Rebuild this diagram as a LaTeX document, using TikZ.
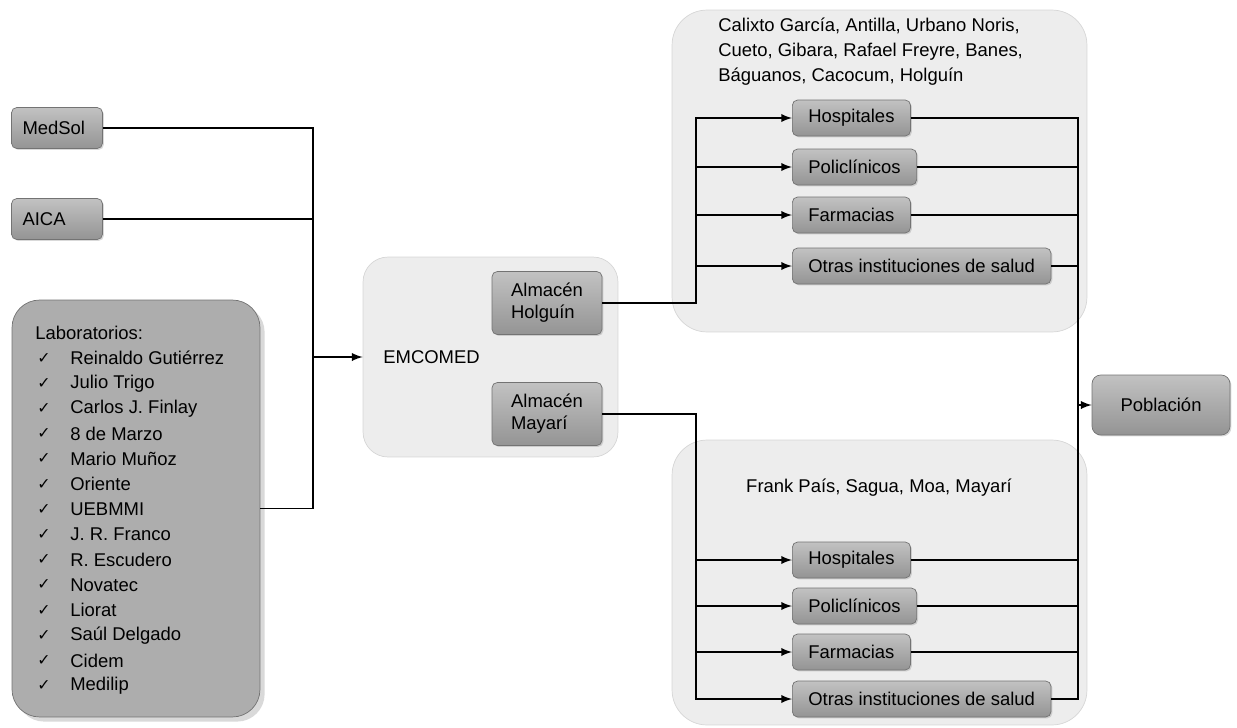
\documentclass[tikz,border=0pt]{standalone}
\usepackage{fontspec}
\setmainfont{Liberation Sans}
\newfontfamily\symfont{DejaVu Sans}
\usetikzlibrary{shadows}
\definecolor{boxtop}{gray}{0.76}
\definecolor{boxbot}{gray}{0.58}
\definecolor{boxline}{gray}{0.45}
\definecolor{labfill}{gray}{0.68}
\definecolor{regfill}{gray}{0.93}
\definecolor{regline}{gray}{0.84}
\newcommand{\chk}{{\symfont\small ✓}}

\begin{document}
\begin{tikzpicture}[x=0.02cm, y=-0.02cm, font=\fontsize{10.5}{14.2}\selectfont,
  box/.style={draw=boxline, top color=boxtop, bottom color=boxbot, rounded corners=3pt,
    minimum height=0.72cm, inner xsep=0.32cm,
    drop shadow={opacity=0.3, shadow xshift=0.8pt, shadow yshift=-0.8pt}},
  src/.style={box, minimum height=0.82cm, inner xsep=0.22cm, text width=1.38cm, align=left},
  unit/.style={box, anchor=west},
  store/.style={box, minimum width=2.2cm, minimum height=1.26cm, align=left,
    font=\fontsize{10.5}{12.5}\selectfont},
  region/.style={draw=regline, fill=regfill, rounded corners=0.7cm},
  item/.style={anchor=west, inner sep=0pt},
  conn/.style={line width=1.1pt},
  arr/.style={conn, -latex}]
        \useasboundingbox (0,0) rectangle (1237,727);

        % Suppliers
        \node[src] (medsol) at (57,128) {MedSol};
        \node[src] (aica) at (57,219) {AICA};
        \node[draw=boxline, fill=labfill, rounded corners=0.55cm, minimum width=4.96cm,
          minimum height=8.34cm, drop shadow={opacity=0.3}] (labs) at (136,508.5) {};
        \node[item] (labtitle) at (35,333) {Laboratorios:};
        \foreach \lab [count=\i] in {Reinaldo Gutiérrez, Julio Trigo, Carlos J. Finlay,
          8 de Marzo, Mario Muñoz, Oriente, UEBMMI, J. R. Franco, R. Escudero,
          Novatec, Liorat, Saúl Delgado, Cidem, Medilip} {
          \node[item] (chk\i) at (37, 333+25.2*\i) {\chk};
          \node[item] (lab\i) at (70, 333+25.2*\i) {\lab};
        }

        % EMCOMED
        \node[region, rounded corners=0.5cm, minimum width=5.1cm, minimum height=4cm] (emcomed) at (490.5,357) {};
        \node[item] (emcomedlbl) at (383,357) {EMCOMED};
        \node[store] (holg) at (547,303) {Almacén\\Holguín};
        \node[store] (mayari) at (547,414) {Almacén\\Mayarí};

        % Municipalities
        \node[region, minimum width=8.3cm, minimum height=6.44cm] (regA) at (879.5,171) {};
        \node[region, minimum width=8.3cm, minimum height=5.7cm] (regB) at (879.5,582.5) {};
        \node[item, align=left] (regAlbl) at (718,52) {Calixto García, Antilla, Urbano Noris,\\Cueto, Gibara, Rafael Freyre, Banes,\\Báguanos, Cacocum, Holguín};
        \node[inner sep=0pt] (regBlbl) at (879,488) {Frank País, Sagua, Moa, Mayarí};

        % Health units
        \node[unit] (hospA) at (792,118) {Hospitales};
        \node[unit] (poliA) at (792,167) {Policlínicos};
        \node[unit] (farmA) at (792,215) {Farmacias};
        \node[unit] (otraA) at (792,266) {Otras instituciones de salud};
        \node[unit] (hospB) at (792,560) {Hospitales};
        \node[unit] (poliB) at (792,606) {Policlínicos};
        \node[unit] (farmB) at (792,652) {Farmacias};
        \node[unit] (otraB) at (792,699) {Otras instituciones de salud};

        \node[box, minimum width=2.76cm, minimum height=1.2cm, rounded corners=5pt] (pob) at (1161,405) {Población};

        % Junctions
        \coordinate (j) at (313,357);
        \coordinate (tl) at (696,303);
        \coordinate (bl) at (696,414);
        \coordinate (tr) at (1078,405);

        % Suppliers to EMCOMED
        \foreach \s in {medsol,aica,labs} {
          \draw[conn] (\s.east) -| (j);
        }
        \draw[arr] (j) -- (emcomed.west);

        % Stores to units
        \foreach \u in {hospA,poliA,farmA,otraA} {
          \draw[arr] (holg.east) -- (tl) |- (\u);
        }
        \foreach \u in {hospB,poliB,farmB,otraB} {
          \draw[arr] (mayari.east) -- (bl) |- (\u);
        }

        % Units to population
        \foreach \u in {hospA,poliA,farmA,otraA,hospB,poliB,farmB,otraB} {
          \draw[conn] (\u) -| (tr);
        }
        \draw[arr] (tr) -- (pob);
\end{tikzpicture}
\end{document}
